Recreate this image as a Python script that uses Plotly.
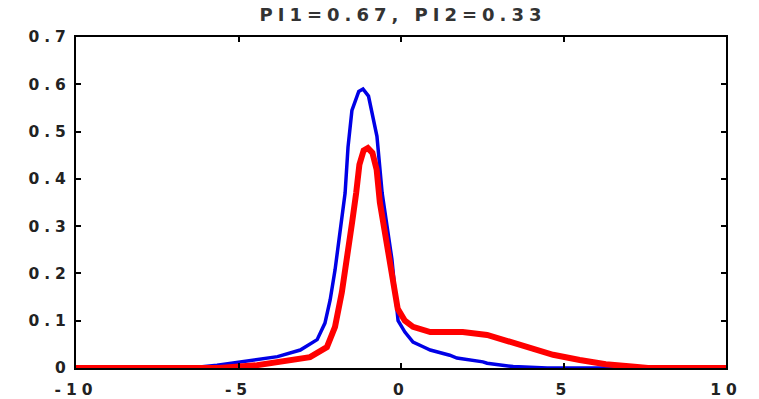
import plotly.graph_objects as go

# Blue density (component 1)
blue_x = [-10, -6.5, -5.66, -4.55, -4.12, -3.8, -3.1, -2.58, -2.34, -2.18, -2.03, -1.88, -1.72, -1.63, -1.51,
          -1.3, -1.17, -1.0, -0.86, -0.74, -0.58, -0.43, -0.28, -0.18, -0.09, 0.12, 0.37, 0.68, 0.9,
          1.5, 1.72, 2.52, 2.65, 3.45, 4.5, 10]
blue_y = [0, 0, 0.006, 0.017, 0.02, 0.024, 0.038, 0.06, 0.095, 0.144, 0.207, 0.285, 0.37, 0.467, 0.545,
          0.585, 0.59, 0.575, 0.53, 0.49, 0.37, 0.30, 0.23, 0.16, 0.10, 0.076, 0.055, 0.045, 0.038,
          0.027, 0.021, 0.013, 0.01, 0.003, 0, 0]

# Red density (mixture)
red_x = [-10, -5.6, -4.43, -3.63, -2.8, -2.28, -2.03, -1.82, -1.65, -1.5, -1.38, -1.28, -1.15, -1.02,
         -0.88, -0.75, -0.65, -0.5, -0.38, -0.22, -0.1, 0.12, 0.37, 0.9, 1.9, 2.65, 3.45, 3.97, 4.68,
         5.5, 6.3, 7.1, 7.6, 10]
red_y = [0, 0, 0.006, 0.013, 0.023, 0.044, 0.087, 0.16, 0.23, 0.31, 0.37, 0.43, 0.46, 0.465,
         0.455, 0.42, 0.35, 0.29, 0.235, 0.165, 0.125, 0.10, 0.087, 0.076, 0.076, 0.07, 0.053, 0.042, 0.028,
         0.017, 0.008, 0.003, 0, 0]

x_ticks = [-10, -5, 0, 5, 10]
x_labels = ["-10", "-5", "0", "5", "10"]
y_ticks = [0, 0.1, 0.2, 0.3, 0.4, 0.5, 0.6, 0.7]
y_labels = ["0", "0.1", "0.2", "0.3", "0.4", "0.5", "0.6", "0.7"]
title_text = "PI1=0.67, PI2=0.33"


def spaced(s, px):
    return '<span style="letter-spacing:%dpx">%s</span>' % (px, s)


fig = go.Figure()
fig.add_trace(go.Scatter(x=blue_x, y=blue_y, mode="lines",
                         line=dict(color="rgb(0,0,230)", width=3.5), showlegend=False))
fig.add_trace(go.Scatter(x=red_x, y=red_y, mode="lines",
                         line=dict(color="rgb(255,0,0)", width=6), showlegend=False))

font = dict(family="DejaVu Sans, sans-serif", size=15.5, color="#222222", weight="bold")
fig.update_layout(
    width=759, height=399,
    margin=dict(l=76, r=33, t=37, b=31, autoexpand=False),
    paper_bgcolor="white", plot_bgcolor="white",
    title=dict(text=spaced(title_text, 5), x=(403 / 759), xanchor="center", y=0.962, yanchor="middle",
               font=dict(family="DejaVu Sans, sans-serif", size=18, color="#333333", weight="bold")),
    font=font,
)
fig.update_xaxes(range=[-10, 10], tickvals=x_ticks, ticktext=[spaced(t, 5) for t in x_labels],
                 showgrid=False, zeroline=False, showline=True, linecolor="black", linewidth=2,
                 mirror="ticks", ticks="inside", ticklen=5, tickcolor="black", tickwidth=2,
                 tickfont=font, ticklabelstandoff=6, automargin=False)
fig.update_yaxes(range=[0, 0.7], tickvals=y_ticks, ticktext=[spaced(t, 5) for t in y_labels],
                 showgrid=False, zeroline=False, showline=True, linecolor="black", linewidth=2,
                 mirror="ticks", ticks="inside", ticklen=5, tickcolor="black", tickwidth=2,
                 tickfont=font, automargin=False)

fig.write_html("out.html")
